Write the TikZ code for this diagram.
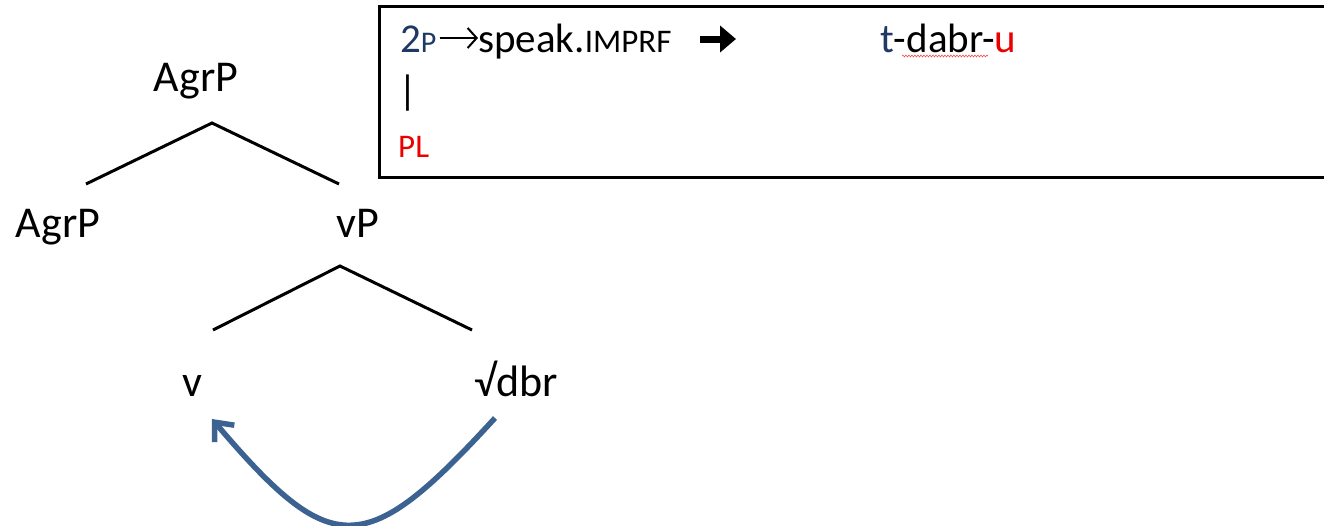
\documentclass[tikz,border=0pt]{standalone}
\usepackage{fontspec}
\setmainfont{Carlito}
\usetikzlibrary{arrows.meta,decorations.pathmorphing}
\definecolor{navy}{RGB}{31,56,100}
\definecolor{arrblue}{RGB}{60,98,146}
\definecolor{wred}{RGB}{235,0,0}
\begin{document}
\begin{tikzpicture}[x=1pt,y=-1pt,
  lbl/.style={inner sep=0pt, anchor=base, font=\fontsize{44}{50}\selectfont},
  btxt/.style={inner sep=0pt, anchor=base west, font=\fontsize{41}{48}\selectfont},
  branch/.style={line width=3pt, line cap=butt},
  thinarrow/.style={line width=2pt, -{Straight Barb[length=9pt,width=20pt,line width=2pt]}},
  heavyarrow/.style={line width=7pt, -{Triangle[length=16pt,width=26pt]}},
  movearrow/.style={line width=5.5pt, draw=arrblue, -{Straight Barb[length=15pt,width=26pt]}},
  squiggle/.style={draw=wred!70, line width=0.6pt, decorate, decoration={snake, amplitude=0.9pt, segment length=3pt}}]
\useasboundingbox (0,0) rectangle (1324,525);

% gloss box
\draw[line width=3pt] (379,6) rectangle (1345,177);
\node[btxt] (pers) at (400,52) {\textcolor{navy}{2{\fontsize{30}{32}\selectfont P}}};
\node[btxt] (verb) at (478,52) {speak.{\fontsize{33}{36}\selectfont IMPRF}};
\draw[thinarrow] (pers.east |- 0,38) ++(3,0) coordinate (thinFrom) -- (verb.west |- 0,38) coordinate (thinTo);
\coordinate (bigFrom) at (700,39);
\coordinate (bigTo) at (736,39);
\draw[heavyarrow] (bigFrom) -- (bigTo);
\node[btxt] (form) at (880,52) {\textcolor{navy}{t}-dabr-\textcolor{wred}{u}};
\draw[squiggle] (902,56) -- (988,56);
\node[btxt] (bar) at (398,104) {|};
\node[btxt, text=wred, font=\fontsize{33}{36}\selectfont] (pl) at (398,157) {PL};

% tree
\node[lbl] (agrTop) at (196,91) {AgrP};
\node[lbl] (agrL) at (58,237) {AgrP};
\node[lbl] (vP) at (358,237) {vP};
\node[lbl] (v) at (192,396) {v};
\node[lbl] (root) at (516,396) {√dbr};

\coordinate (apex1) at (212,123);
\coordinate (apex1L) at (86,184);
\coordinate (apex1R) at (339,184);
\draw[branch] (apex1L) -- (apex1) -- (apex1R);

\coordinate (apex2) at (340,266);
\coordinate (apex2L) at (213,330);
\coordinate (apex2R) at (472,330);
\draw[branch] (apex2L) -- (apex2) -- (apex2R);

% movement arrow
\coordinate (moveFrom) at (495,418);
\coordinate (moveTo) at (212,419);
\draw[movearrow] (moveFrom) .. controls (365,560) and (332,560) .. (moveTo);
\end{tikzpicture}
\end{document}
